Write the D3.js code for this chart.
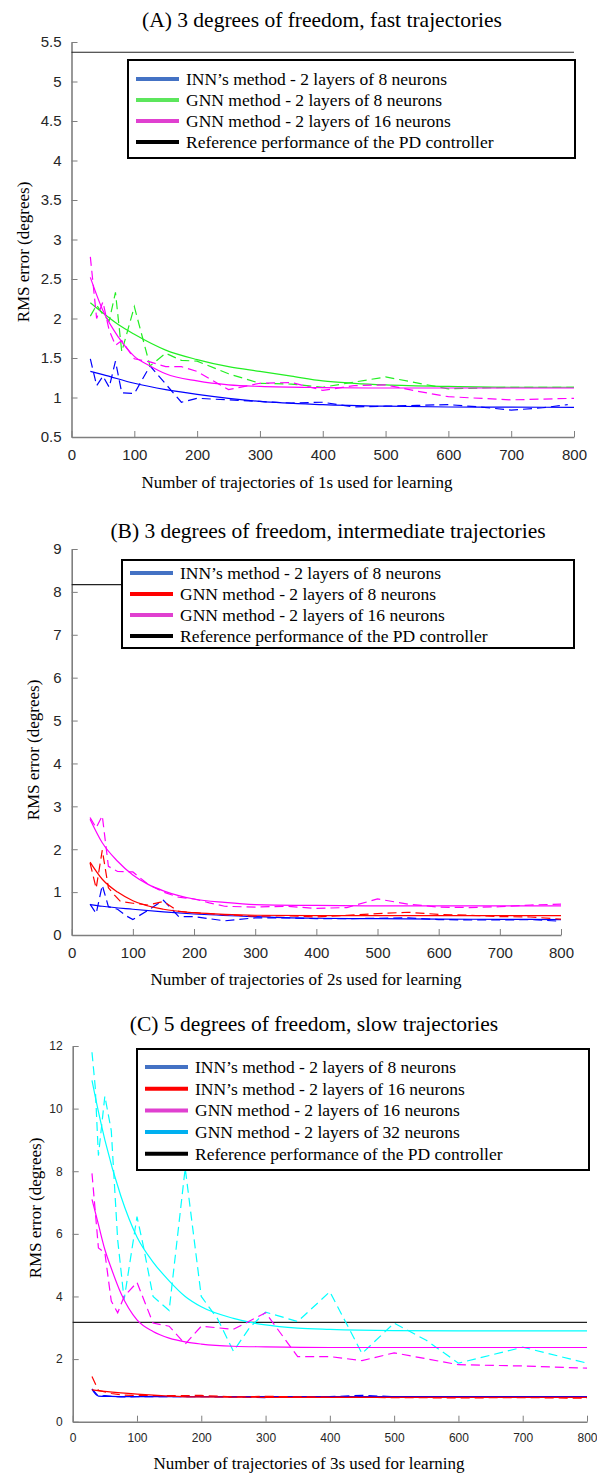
<!DOCTYPE html>
<html lang="en">
<head>
<meta charset="UTF-8">
<title>RMS error vs number of learning trajectories</title>
<script src="https://cdn.jsdelivr.net/npm/d3@7"></script>
<style>
    html, body {
        margin: 0;
        padding: 0;
        background: #fff;
    }
    .tick text {
        font-family: 'Liberation Sans', Arial, sans-serif;
        fill: #262626;
    }
    .domain, .tick line {
        stroke: #7f7f7f;
    }
    .serif {
        font-family: 'Liberation Serif', 'Times New Roman', serif;
        fill: #000;
    }
    .data {
        fill: none;
        stroke-width: 1.2px;
    }
</style>
</head>
<body>
<script>
    // ---------- panel A : 3 dof, fast trajectories ----------
    const aTitle = '(A) 3 degrees of freedom, fast trajectories';
    const aXLabel = 'Number of trajectories of 1s used for learning';
    const aYTicks = [0.5, 1, 1.5, 2, 2.5, 3, 3.5, 4, 4.5, 5, 5.5];
    const aLegend = ['INN\u2019s method - 2 layers of 8 neurons', 'GNN method - 2 layers of 8 neurons',
        'GNN method - 2 layers of 16 neurons', 'Reference performance of the PD controller'];
    const aReference = 5.37;

    const aInnFitX = [30, 50, 100, 150, 200, 250, 300, 400, 500, 600, 700, 800];
    const aInnFitY = [1.33, 1.29, 1.18, 1.10, 1.04, 0.99, 0.95, 0.91, 0.89, 0.88, 0.878, 0.875];
    const aInnRawX = [30, 40, 50, 60, 70, 80, 100, 125, 175, 200, 250, 300, 350, 400, 450, 500, 550, 600, 650, 700, 750, 790];
    const aInnRawY = [1.49, 1.15, 1.27, 1.13, 1.46, 1.06, 1.05, 1.40, 0.94, 0.99, 0.97, 0.95, 0.93, 0.94, 0.88, 0.89, 0.90, 0.91, 0.88, 0.84, 0.87, 0.91];

    const aGnn8FitX = [30, 50, 75, 100, 150, 200, 250, 300, 350, 400, 450, 500, 600, 700, 800];
    const aGnn8FitY = [2.20, 2.07, 1.92, 1.80, 1.60, 1.48, 1.39, 1.33, 1.27, 1.21, 1.18, 1.16, 1.14, 1.13, 1.13];
    const aGnn8RawX = [30, 40, 50, 60, 70, 80, 100, 125, 150, 175, 200, 250, 300, 350, 400, 500, 600, 700, 800];
    const aGnn8RawY = [2.03, 2.17, 2.05, 1.97, 2.33, 1.58, 2.15, 1.40, 1.56, 1.47, 1.46, 1.30, 1.18, 1.17, 1.13, 1.26, 1.11, 1.13, 1.13];

    const aGnn16FitX = [30, 50, 75, 100, 125, 150, 200, 250, 300, 400, 500, 600, 800];
    const aGnn16FitY = [2.52, 2.10, 1.76, 1.52, 1.40, 1.30, 1.21, 1.16, 1.14, 1.125, 1.12, 1.12, 1.12];
    const aGnn16RawX = [30, 40, 50, 60, 70, 80, 100, 125, 150, 175, 200, 250, 300, 350, 400, 450, 500, 550, 600, 700, 800];
    const aGnn16RawY = [2.78, 2.00, 2.21, 1.85, 1.66, 1.72, 1.49, 1.45, 1.39, 1.39, 1.33, 1.10, 1.18, 1.19, 1.09, 1.15, 1.16, 1.08, 1.01, 0.97, 0.99];

    // ---------- panel B : 3 dof, intermediate trajectories ----------
    const bTitle = '(B) 3 degrees of freedom, intermediate trajectories';
    const bXLabel = 'Number of trajectories of 2s used for learning';
    const bYTicks = [0, 1, 2, 3, 4, 5, 6, 7, 8, 9];
    const bLegend = ['INN\u2019s method - 2 layers of 8 neurons', 'GNN method - 2 layers of 8 neurons',
        'GNN method - 2 layers of 16 neurons', 'Reference performance of the PD controller'];
    const bReference = 8.17;

    const bInnFitX = [30, 50, 100, 150, 200, 300, 400, 500, 600, 700, 800];
    const bInnFitY = [0.71, 0.67, 0.60, 0.54, 0.49, 0.43, 0.39, 0.38, 0.37, 0.365, 0.36];
    const bInnRawX = [30, 40, 50, 60, 75, 90, 100, 125, 150, 175, 200, 250, 300, 350, 400, 450, 500, 550, 600, 650, 700, 750, 800];
    const bInnRawY = [0.72, 0.50, 1.16, 0.66, 0.60, 0.44, 0.36, 0.58, 0.81, 0.43, 0.43, 0.33, 0.40, 0.40, 0.38, 0.38, 0.39, 0.40, 0.36, 0.35, 0.35, 0.36, 0.32];

    const bGnn8FitX = [30, 50, 75, 100, 150, 200, 250, 300, 400, 800];
    const bGnn8FitY = [1.70, 1.30, 1.00, 0.80, 0.60, 0.52, 0.48, 0.46, 0.45, 0.45];
    const bGnn8RawX = [30, 40, 50, 60, 70, 80, 100, 125, 150, 175, 200, 250, 300, 350, 400, 450, 500, 550, 600, 650, 700, 750, 800];
    const bGnn8RawY = [1.68, 1.09, 1.98, 1.10, 0.93, 0.78, 0.74, 0.70, 0.78, 0.55, 0.52, 0.47, 0.44, 0.45, 0.42, 0.46, 0.50, 0.53, 0.48, 0.46, 0.43, 0.42, 0.37];

    const bGnn16FitX = [30, 50, 75, 100, 125, 150, 200, 250, 300, 400, 500, 800];
    const bGnn16FitY = [2.70, 2.15, 1.72, 1.40, 1.18, 1.03, 0.84, 0.76, 0.71, 0.69, 0.68, 0.68];
    const bGnn16RawX = [30, 40, 50, 60, 75, 100, 125, 150, 175, 200, 225, 250, 300, 350, 400, 450, 500, 550, 600, 650, 700, 750, 800];
    const bGnn16RawY = [2.74, 2.50, 2.78, 1.60, 1.48, 1.47, 1.18, 1.00, 0.88, 0.84, 0.75, 0.67, 0.65, 0.67, 0.62, 0.64, 0.84, 0.72, 0.65, 0.64, 0.66, 0.70, 0.72];

    // ---------- panel C : 5 dof, slow trajectories ----------
    const cTitle = '(C) 5 degrees of freedom, slow trajectories';
    const cXLabel = 'Number of trajectories of 3s used for learning';
    const cYTicks = [0, 2, 4, 6, 8, 10, 12];
    const cLegend = ['INN\u2019s method - 2 layers of 8 neurons', 'INN\u2019s method - 2 layers of 16 neurons',
        'GNN method - 2 layers of 16 neurons', 'GNN method - 2 layers of 32 neurons',
        'Reference performance of the PD controller'];
    const cReference = 3.17;

    const cInn8FitX = [30, 40, 60, 100, 200, 400, 800];
    const cInn8FitY = [1.03, 0.82, 0.81, 0.80, 0.80, 0.80, 0.80];
    const cInn8RawX = [30, 40, 50, 75, 100, 150, 200, 300, 400, 450, 500, 600, 700, 800];
    const cInn8RawY = [1.05, 0.81, 0.83, 0.79, 0.80, 0.80, 0.80, 0.77, 0.80, 0.84, 0.80, 0.80, 0.80, 0.80];

    const cInn16FitX = [30, 50, 75, 100, 150, 200, 300, 800];
    const cInn16FitY = [1.02, 0.97, 0.92, 0.88, 0.82, 0.79, 0.78, 0.78];
    const cInn16RawX = [30, 40, 60, 80, 100, 150, 200, 250, 300, 400, 500, 600, 700, 800];
    const cInn16RawY = [1.44, 1.00, 0.90, 0.85, 0.84, 0.83, 0.84, 0.79, 0.81, 0.78, 0.77, 0.76, 0.77, 0.75];

    const cGnn16FitX = [30, 40, 50, 60, 75, 100, 125, 150, 175, 200, 250, 300, 400, 800];
    const cGnn16FitY = [7.1, 6.3, 5.5, 4.9, 4.1, 3.25, 2.88, 2.67, 2.55, 2.48, 2.41, 2.39, 2.37, 2.37];
    const cGnn16RawX = [30, 40, 50, 60, 70, 80, 100, 125, 150, 175, 200, 250, 300, 350, 400, 450, 500, 600, 700, 800];
    const cGnn16RawY = [7.93, 5.55, 5.40, 3.85, 3.48, 4.00, 4.45, 3.15, 3.05, 2.48, 3.05, 2.95, 3.48, 2.08, 2.08, 1.95, 2.20, 1.82, 1.78, 1.71];

    const cGnn32FitX = [30, 40, 50, 75, 100, 125, 150, 175, 200, 250, 300, 350, 400, 500, 600, 800];
    const cGnn32FitY = [10.9, 9.9, 9.0, 7.2, 5.9, 5.1, 4.5, 4.0, 3.67, 3.30, 3.09, 2.99, 2.95, 2.91, 2.90, 2.90];
    const cGnn32RawX = [30, 35, 40, 50, 60, 70, 80, 100, 110, 125, 150, 175, 200, 225, 250, 275, 300, 350, 400, 450, 500, 550, 600, 700, 800];
    const cGnn32RawY = [11.8, 10.7, 8.5, 10.4, 9.3, 5.8, 3.9, 6.55, 5.6, 4.0, 3.55, 8.1, 4.0, 3.3, 2.25, 3.0, 3.5, 3.2, 4.15, 2.18, 3.15, 2.6, 1.87, 2.38, 1.87];

    const xTicks = [0, 100, 200, 300, 400, 500, 600, 700, 800];

    const blue = '#0000ff', green = '#22ee22', magenta = '#ff00ff', red = '#ff0000', cyan = '#00ffff';
    const swBlue = '#4472c4', swGreen = '#5ce65c', swMagenta = '#e040d0', swRed = '#ff0000', swCyan = '#00b0f0';

    const svg = d3.select('body').append('svg')
        .attr('width', 597)
        .attr('height', 1474);

    function pairs(xs, ys) {
        return xs.map((x, i) => [x, ys[i]]);
    }

    function drawPanel(p) {
        let x = d3.scaleLinear().domain([0, 800]).range([p.left, p.right]);
        let y = d3.scaleLinear().domain(p.yDomain).range([p.bottom, p.top]);
        let g = svg.append('g');

        g.append('g')
            .attr('transform', `translate(0,${p.bottom})`)
            .call(d3.axisBottom(x).tickValues(xTicks).tickSizeInner(-6).tickSizeOuter(0).tickPadding(12))
            .call(a => a.selectAll('text').style('font-size', p.tickFont + 'px'))
            .call(a => a.select('.domain').attr('stroke-width', 1.6));

        g.append('g')
            .attr('transform', `translate(${p.left},0)`)
            .call(d3.axisLeft(y).tickValues(p.yTicks).tickFormat(d3.format('~g')).tickSizeInner(-6).tickSizeOuter(0).tickPadding(10))
            .call(a => a.selectAll('text').style('font-size', p.tickFont + 'px'))
            .call(a => a.select('.domain').attr('stroke-width', 1.6));

        // PD controller reference
        g.append('line')
            .attr('x1', x(0)).attr('x2', x(800))
            .attr('y1', y(p.reference)).attr('y2', y(p.reference))
            .attr('stroke', '#222').attr('stroke-width', 1.2);

        let lineFit = d3.line().x(d => x(d[0])).y(d => y(d[1])).curve(d3.curveMonotoneX);
        let lineRaw = d3.line().x(d => x(d[0])).y(d => y(d[1]));

        p.series.forEach(s => {
            g.append('path')
                .classed('data', true)
                .attr('d', lineRaw(pairs(s.rawX, s.rawY)))
                .attr('stroke', s.color)
                .attr('stroke-dasharray', '9,5');
            g.append('path')
                .classed('data', true)
                .attr('d', lineFit(pairs(s.fitX, s.fitY)))
                .attr('stroke', s.color);
        });

        // legend
        let lg = g.append('g');
        lg.append('rect')
            .attr('x', p.legend.x).attr('y', p.legend.y)
            .attr('width', p.legend.w).attr('height', p.legend.h)
            .attr('fill', '#fff').attr('stroke', '#000').attr('stroke-width', 2);
        p.legend.labels.forEach((t, i) => {
            let cy = p.legend.y + p.legend.first + i * p.legend.step;
            lg.append('line')
                .attr('x1', p.legend.x + 8).attr('x2', p.legend.x + 51)
                .attr('y1', cy).attr('y2', cy)
                .attr('stroke', p.legend.colors[i]).attr('stroke-width', 4);
            lg.append('text')
                .classed('serif', true)
                .attr('x', p.legend.x + 58).attr('y', cy + 6)
                .style('font-size', '17.5px')
                .text(t);
        });

        g.append('text')
            .classed('serif', true)
            .attr('x', p.titleX).attr('y', p.titleY)
            .attr('text-anchor', 'middle')
            .style('font-size', '21.5px')
            .text(p.title);

        g.append('text')
            .classed('serif', true)
            .attr('x', p.xLabelX).attr('y', p.xLabelY)
            .attr('text-anchor', 'middle')
            .style('font-size', '17px')
            .text(p.xLabel);

        g.append('text')
            .classed('serif', true)
            .attr('transform', `translate(${p.yLabelX},${p.yLabelY}) rotate(-90)`)
            .attr('text-anchor', 'middle')
            .style('font-size', '17px')
            .text('RMS error (degrees)');
    }

    drawPanel({
        left: 71.5, right: 574, top: 42, bottom: 437, yDomain: [0.5, 5.5], yTicks: aYTicks, tickFont: 15,
        reference: aReference, title: aTitle, titleX: 322, titleY: 27, xLabel: aXLabel,
        xLabelX: 297, xLabelY: 488, yLabelX: 29, yLabelY: 252,
        legend: {x: 128, y: 60, w: 447, h: 98, first: 19, step: 21, labels: aLegend,
            colors: [swBlue, swGreen, swMagenta, '#000']},
        series: [
            {color: blue, fitX: aInnFitX, fitY: aInnFitY, rawX: aInnRawX, rawY: aInnRawY},
            {color: green, fitX: aGnn8FitX, fitY: aGnn8FitY, rawX: aGnn8RawX, rawY: aGnn8RawY},
            {color: magenta, fitX: aGnn16FitX, fitY: aGnn16FitY, rawX: aGnn16RawX, rawY: aGnn16RawY}
        ]
    });

    drawPanel({
        left: 71.7, right: 561, top: 549, bottom: 935, yDomain: [0, 9], yTicks: bYTicks, tickFont: 15,
        reference: bReference, title: bTitle, titleX: 328, titleY: 538, xLabel: bXLabel,
        xLabelX: 306, xLabelY: 985, yLabelX: 39, yLabelY: 750,
        legend: {x: 122, y: 560, w: 452, h: 88, first: 13, step: 21, labels: bLegend,
            colors: [swBlue, swRed, swMagenta, '#000']},
        series: [
            {color: blue, fitX: bInnFitX, fitY: bInnFitY, rawX: bInnRawX, rawY: bInnRawY},
            {color: red, fitX: bGnn8FitX, fitY: bGnn8FitY, rawX: bGnn8RawX, rawY: bGnn8RawY},
            {color: magenta, fitX: bGnn16FitX, fitY: bGnn16FitY, rawX: bGnn16RawX, rawY: bGnn16RawY}
        ]
    });

    drawPanel({
        left: 72.7, right: 587, top: 1046, bottom: 1421.7, yDomain: [0, 12], yTicks: cYTicks, tickFont: 12,
        reference: cReference, title: cTitle, titleX: 314, titleY: 1031, xLabel: cXLabel,
        xLabelX: 309, xLabelY: 1469, yLabelX: 41, yLabelY: 1208,
        legend: {x: 137, y: 1049, w: 452, h: 121, first: 18, step: 21.7, labels: cLegend,
            colors: [swBlue, swRed, swMagenta, swCyan, '#000']},
        series: [
            {color: cyan, fitX: cGnn32FitX, fitY: cGnn32FitY, rawX: cGnn32RawX, rawY: cGnn32RawY},
            {color: magenta, fitX: cGnn16FitX, fitY: cGnn16FitY, rawX: cGnn16RawX, rawY: cGnn16RawY},
            {color: blue, fitX: cInn8FitX, fitY: cInn8FitY, rawX: cInn8RawX, rawY: cInn8RawY},
            {color: red, fitX: cInn16FitX, fitY: cInn16FitY, rawX: cInn16RawX, rawY: cInn16RawY}
        ]
    });
</script>
</body>
</html>
